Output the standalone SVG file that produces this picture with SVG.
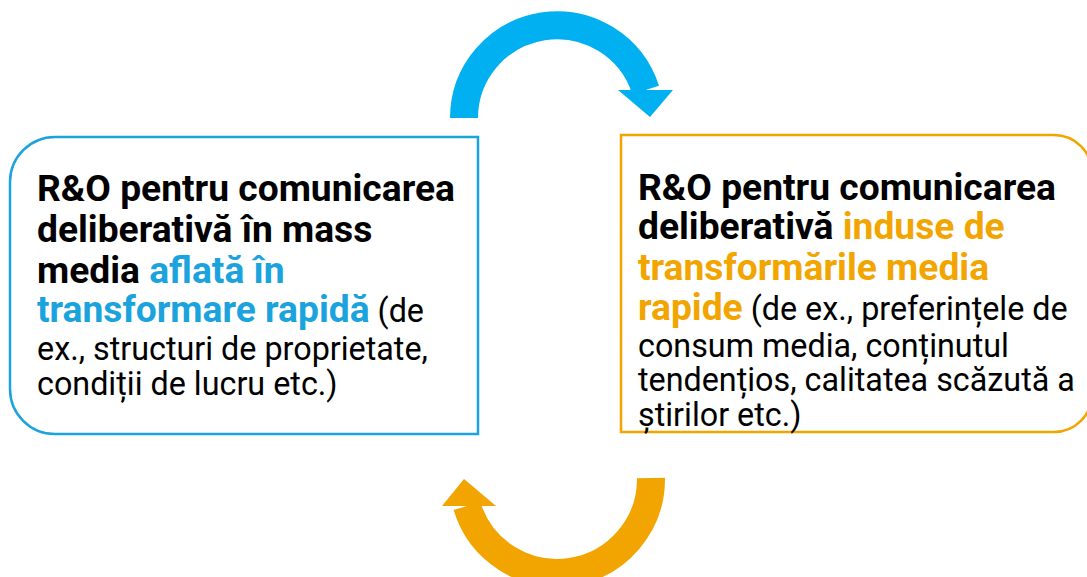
<svg xmlns="http://www.w3.org/2000/svg" width="1087" height="577" viewBox="0 0 1087 577">
  <style>
    .box { fill: #ffffff; stroke-width: 2.5; }
    .b { font-family: Roboto, "Liberation Sans", sans-serif; font-weight: 700; font-size: 37.2px; fill: #000000; }
    .r { font-family: Roboto, "Liberation Sans", sans-serif; font-weight: 400; font-size: 32.3px; fill: #000000; }
    .blue { fill: #1BA3DD; }
    .orange { fill: #F2A500; }
  </style>
  <rect width="1087" height="577" fill="#ffffff"/>
  <g id="connectors">
    <path d="M 464 118 A 93 93 0 0 1 645.6 90" fill="none" stroke="#00B0F0" stroke-width="28"/>
    <polygon points="618,90 673,90 650,117" fill="#00B0F0"/>
    <path d="M 651 478 A 94 94 0 0 1 467 506" fill="none" stroke="#F2A500" stroke-width="28"/>
    <polygon points="442,506 496,506 464,479" fill="#F2A500"/>
  </g>
  <g id="node-left">
    <path class="box" stroke="#1BA3DD" d="M 478 137 L 55 137 A 45 45 0 0 0 10 182 L 10 389 A 45 45 0 0 0 55 434 L 478 434 Z"/>
    <text x="37" y="201" class="b">R&amp;O pentru comunicarea</text>
    <text x="37" y="242" class="b">deliberativă în mass</text>
    <text x="37" y="283" class="b">media <tspan class="blue">aflată în</tspan></text>
    <text x="37" y="322"><tspan class="b blue">transformare rapidă</tspan><tspan class="r"> (de</tspan></text>
    <text x="37" y="360" class="r">ex., structuri de proprietate,</text>
    <text x="37" y="395" class="r">condiții de lucru etc.)</text>
  </g>
  <g id="node-right">
    <path class="box" stroke="#F2A500" d="M 621 135 L 1054 135 A 38 38 0 0 1 1092 173 L 1092 394 A 38 38 0 0 1 1054 432 L 621 432 Z"/>
    <text x="638" y="200" class="b">R&amp;O pentru comunicarea</text>
    <text x="638" y="239" class="b">deliberativă <tspan class="orange">induse de</tspan></text>
    <text x="638" y="280" class="b orange">transformările media</text>
    <text x="638" y="320"><tspan class="b orange">rapide</tspan><tspan class="r"> (de ex., preferințele de</tspan></text>
    <text x="638" y="357" class="r">consum media, conținutul</text>
    <text x="638" y="391" class="r">tendențios, calitatea scăzută a</text>
    <text x="638" y="426" class="r">știrilor etc.)</text>
  </g>
</svg>
